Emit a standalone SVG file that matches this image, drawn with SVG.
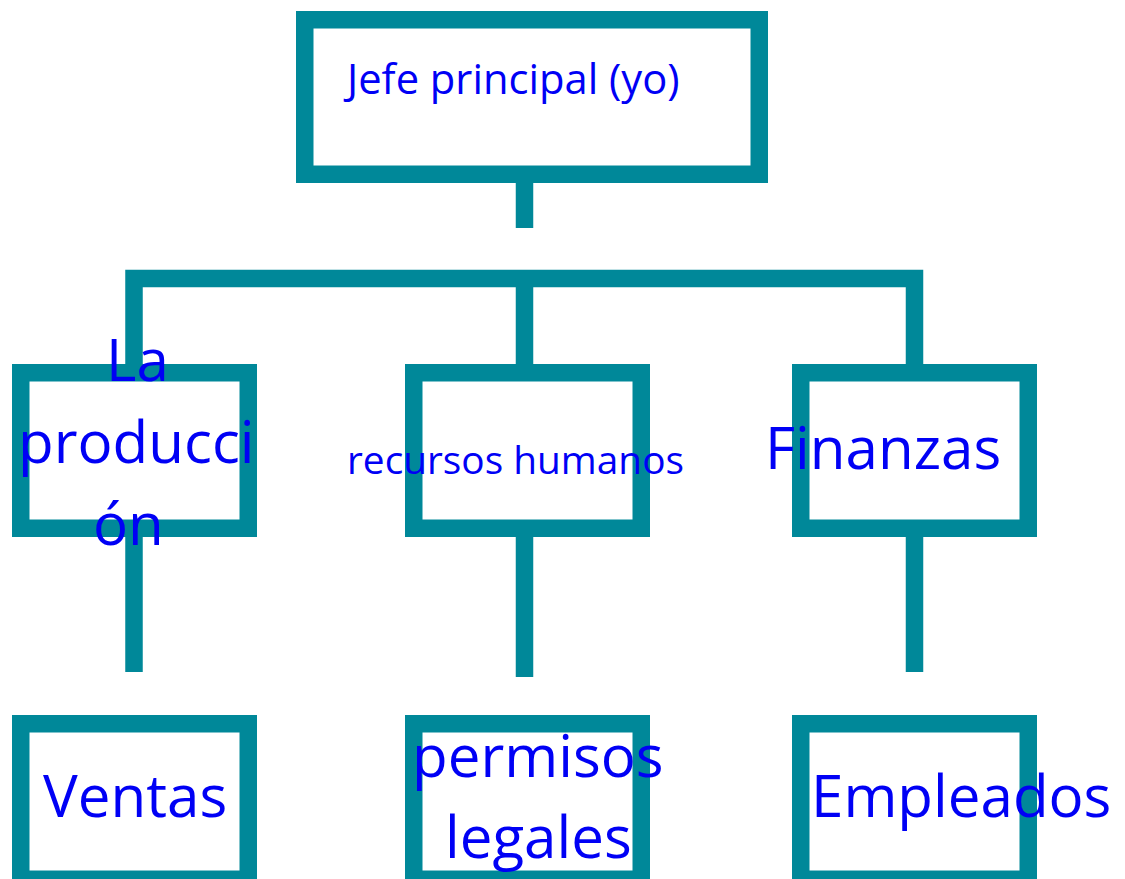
<svg xmlns="http://www.w3.org/2000/svg" width="1125" height="879" viewBox="0 0 1125 879">
<style>
.box{fill:#ffffff;stroke:#008899;stroke-width:17.5}
.con{fill:none;stroke:#008899;stroke-width:17.5;stroke-linecap:butt;stroke-linejoin:miter}
.t{font-family:"Open Sans","Noto Sans","DejaVu Sans",sans-serif;fill:#0000f5}
.big{font-size:58.3px}
</style>
<rect width="1125" height="879" fill="#ffffff"/>
<g id="connectors">
<path class="con" d="M524.5 183 V228"/>
<path class="con" d="M134 364 V278.5 H914.5 V364"/>
<path class="con" d="M524.5 278.5 V364"/>
<path class="con" d="M134 537 V672"/>
<path class="con" d="M524.5 537 V677"/>
<path class="con" d="M914.5 537 V672"/>
</g>
<g id="node-jefe">
<rect class="box" x="304.75" y="19.75" width="454.5" height="154.5"/>
<text class="t" x="347" y="94" font-size="41.7">Jefe principal (yo)</text>
</g>
<g id="node-produccion">
<rect class="box" x="20.75" y="372.75" width="227.5" height="155.5"/>
<text class="t big" x="106" y="381">La</text>
<text class="t big" x="18" y="463">producci</text>
<text class="t big" x="93" y="545">ón</text>
</g>
<g id="node-rrhh">
<rect class="box" x="413.75" y="372.75" width="227.5" height="155.5"/>
<text class="t" x="347" y="474" font-size="38.8">recursos humanos</text>
</g>
<g id="node-finanzas">
<rect class="box" x="800.75" y="372.75" width="227.5" height="155.5"/>
<text class="t big" x="765" y="469">Finanzas</text>
</g>
<g id="node-ventas">
<rect class="box" x="20.75" y="723.75" width="227.5" height="155.5"/>
<text class="t big" x="43" y="817">Ventas</text>
</g>
<g id="node-permisos">
<rect class="box" x="413.75" y="723.75" width="227.5" height="155.5"/>
<text class="t big" x="412" y="777">permisos</text>
<text class="t big" x="445" y="858">legales</text>
</g>
<g id="node-empleados">
<rect class="box" x="800.75" y="723.75" width="227.5" height="155.5"/>
<text class="t big" x="811" y="817">Empleados</text>
</g>
</svg>
